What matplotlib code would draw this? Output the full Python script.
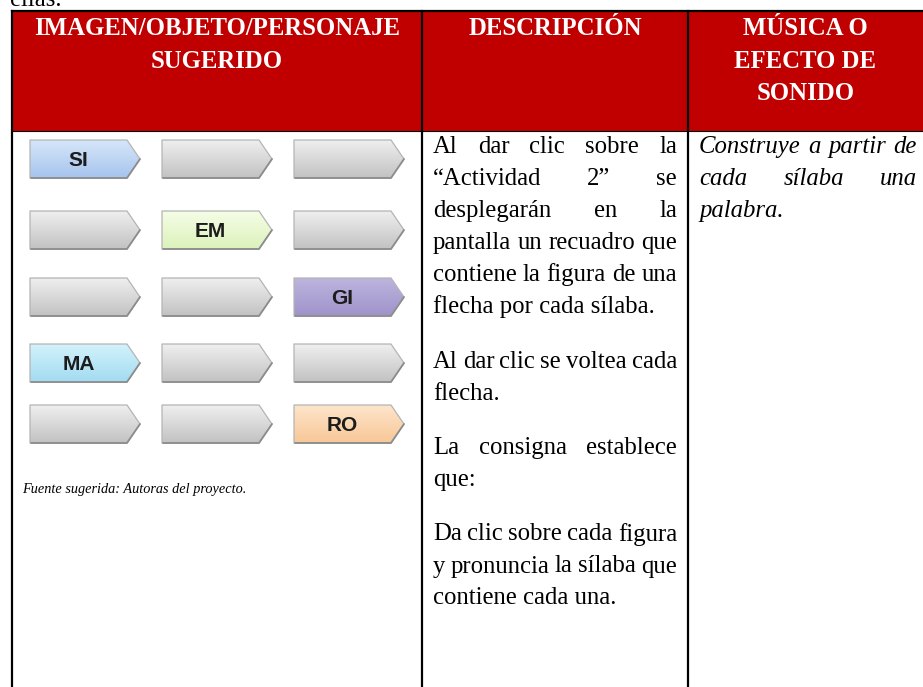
import matplotlib
matplotlib.use("Agg")
import matplotlib.pyplot as plt
import numpy as np
from matplotlib.patches import Polygon, Rectangle
from matplotlib.colors import to_rgb

# ---------------- data (content of the table) ----------------
header_col1 = ["IMAGEN/OBJETO/PERSONAJE", "SUGERIDO"]
header_col2 = ["DESCRIPCIÓN"]
header_col3 = ["MÚSICA O", "EFECTO DE", "SONIDO"]

syllable_rows = [
    ["SI", "", ""],
    ["", "EM", ""],
    ["", "", "GI"],
    ["MA", "", ""],
    ["", "", "RO"],
]

description_paragraphs = [
    ["Al dar clic sobre la", "“Actividad 2” se", "desplegarán en la",
     "pantalla un recuadro que", "contiene la figura de una",
     "flecha por cada sílaba."],
    ["Al dar clic se voltea cada", "flecha."],
    ["La consigna establece", "que:"],
    ["Da clic sobre cada figura", "y pronuncia la sílaba que",
     "contiene cada una."],
]
music_lines = ["Construye a partir de", "cada sílaba una", "palabra."]
caption_text = "Fuente sugerida: Autoras del proyecto."
previous_text = "ellas."

# ---------------- styles ----------------
RED = "#c00000"
SERIF = ["Liberation Serif", "DejaVu Serif"]
SANS = ["Liberation Sans", "DejaVu Sans"]
BODY_FS = 17.8
LABEL_FS = 15.0
syllable_colors = {
    "SI": ("#d6e6f9", "#a6c4ee"),
    "EM": ("#f5fde6", "#dcf2bb"),
    "GI": ("#bdb4de", "#9f93ca"),
    "MA": ("#d3f2fb", "#a2dbf1"),
    "RO": ("#fde5cb", "#f8c797"),
    "": ("#efefef", "#c2c2c2"),
}

W, H = 923, 687
fig = plt.figure(figsize=(W / 100, H / 100), dpi=100)
ax = fig.add_axes([0, 0, 1, 1])
ax.axis("off")
ax.set_xlim(0, W)
ax.set_ylim(H, 0)
renderer = fig.canvas.get_renderer()

# layout
LEFT, C1, C2, RIGHT = 12, 422, 688, 923
TOP, HEAD_BOTTOM = 11, 131

# text above the table (cut off by the page crop, as in the reference)
ax.text(10, 6, previous_text, fontsize=BODY_FS, family=SERIF, va="baseline", ha="left")

# header background
ax.add_patch(Rectangle((LEFT, TOP), RIGHT - LEFT, HEAD_BOTTOM - TOP,
                       facecolor=RED, edgecolor="none", zorder=1))

def header(lines, xc):
    for i, s in enumerate(lines):
        ax.text(xc, 35 + 32.5 * i, s, ha="center", va="baseline", color="white",
                fontsize=BODY_FS, family=SERIF, fontweight="bold", zorder=5)

header(header_col1, (LEFT + C1) / 2)
header(header_col2, (C1 + C2) / 2)
header(header_col3, (C2 + RIGHT) / 2)

# borders
lw = 1.6
ax.plot([LEFT, RIGHT], [TOP, TOP], color="black", lw=lw, zorder=6, solid_capstyle="projecting")
ax.plot([LEFT, RIGHT], [HEAD_BOTTOM, HEAD_BOTTOM], color="black", lw=0.8, zorder=6)
for x in (LEFT, C1, C2):
    ax.plot([x, x], [TOP, H + 5], color="black", lw=lw, zorder=6)

# ---------------- arrows grid ----------------
col_left = [30, 162, 294]
row_center = [159, 230, 297, 363, 424]
AW, AH, TIP = 110, 38, 13

def draw_arrow(x0, yc, label):
    top_c, bot_c = syllable_colors[label]
    pts = [(x0, yc - AH / 2), (x0 + AW - TIP, yc - AH / 2), (x0 + AW, yc),
           (x0 + AW - TIP, yc + AH / 2), (x0, yc + AH / 2)]
    poly = Polygon(pts, closed=True, facecolor="none", edgecolor="#b4b4b4",
                   lw=0.9, zorder=4, joinstyle="round")
    ax.add_patch(poly)
    g = np.linspace(0, 1, 64)[:, None, None]
    c0 = np.array(to_rgb(top_c))[None, None, :]
    c1 = np.array(to_rgb(bot_c))[None, None, :]
    img = c0 * (1 - g) + c1 * g
    img = np.repeat(img, 2, axis=1)
    im = ax.imshow(img, extent=(x0, x0 + AW, yc + AH / 2, yc - AH / 2),
                   aspect="auto", interpolation="bilinear", zorder=3)
    im.set_clip_path(poly)
    # soft shadow along bottom edge
    ax.plot([x0 + 1, x0 + AW - TIP, x0 + AW], [yc + AH / 2, yc + AH / 2, yc],
            color="#8c8c8c", lw=1.3, zorder=4, solid_capstyle="round",
            solid_joinstyle="round")
    if label:
        em = LABEL_FS * 100 / 72
        ax.text(x0 + (AW - TIP) / 2, yc + 0.716 * em / 2, label, ha="center",
                va="baseline", fontsize=LABEL_FS, family=SANS, fontweight="bold",
                color="#1c1c1c", zorder=5)

for r, row in enumerate(syllable_rows):
    for c, lab in enumerate(row):
        draw_arrow(col_left[c], row_center[r], lab)

ax.text(22, 493, caption_text, fontsize=10.3, family=SERIF, style="italic",
        ha="left", va="baseline")

# ---------------- justified text ----------------
def justified_line(line, x0, x1, y, last, **kw):
    words = line.split(" ")
    if last or len(words) == 1:
        ax.text(x0, y, line, ha="left", va="baseline", **kw)
        return
    ts = [ax.text(0, y, w, ha="left", va="baseline", **kw) for w in words]
    widths = [t.get_window_extent(renderer).width for t in ts]
    gap = (x1 - x0 - sum(widths)) / (len(words) - 1)
    x = x0
    for t, w in zip(ts, widths):
        t.set_x(x)
        x += w + gap

body_kw = dict(fontsize=BODY_FS, family=SERIF, color="black")
y = 153.0
for p in description_paragraphs:
    for i, line in enumerate(p):
        justified_line(line, 433, 677, y, i == len(p) - 1, **body_kw)
        y += 32
    y += 22.5

y = 153.0
for i, line in enumerate(music_lines):
    justified_line(line, 699, 917, y, i == len(music_lines) - 1, style="italic", **body_kw)
    y += 32

ax.set_xlim(0, W)
ax.set_ylim(H, 0)
fig.savefig("out.png", dpi=100)
